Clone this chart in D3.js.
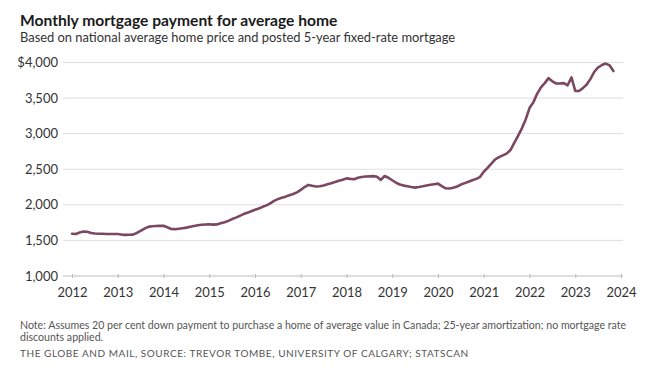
<!DOCTYPE html>
<html lang="en">
<head>
<meta charset="utf-8">
<title>Monthly mortgage payment for average home</title>
<script src="https://cdn.jsdelivr.net/npm/d3@7"></script>
<style>
body { margin: 0; background: #fff; }
svg text { font-family: Lato, "Open Sans", sans-serif; }
.title { font-size: 15.6px; font-weight: 700; fill: #1a1a1a; }
.subtitle { font-size: 12.9px; fill: #333; }
.grid line { stroke: #dedede; stroke-width: 1; }
.yaxis text { font-size: 13px; fill: #333; }
.xaxis text { font-size: 13px; fill: #333; }
.xaxis line, .xaxis path { stroke: #bbb; }
.note { font-size: 10.6px; fill: #555; }
.source { font-size: 10px; fill: #555; letter-spacing: 0.55px; }
</style>
</head>
<body>
<div id="chart"></div>
<script>
// monthly values, Jan 2012 .. Nov 2023 (dollars)
var startYear = 2012;
var v2012 = [1594,1590,1610,1625,1622,1605,1598,1594,1593,1591,1590,1590];
var v2013 = [1590,1582,1578,1580,1582,1605,1635,1665,1690,1698,1703,1706];
var v2014 = [1705,1685,1660,1658,1665,1672,1680,1692,1702,1712,1720,1724];
var v2015 = [1728,1722,1725,1740,1755,1775,1800,1820,1845,1870,1890,1910];
var v2016 = [1932,1948,1972,1992,2020,2055,2080,2100,2115,2135,2152,2175];
var v2017 = [2210,2250,2280,2268,2258,2262,2272,2290,2305,2320,2338,2352];
var v2018 = [2372,2365,2360,2380,2392,2398,2400,2403,2395,2350,2405,2380];
var v2019 = [2345,2310,2285,2270,2260,2250,2242,2250,2260,2272,2282,2290];
var v2020 = [2298,2262,2232,2230,2240,2258,2285,2305,2325,2345,2365,2390];
var v2021 = [2465,2520,2580,2640,2670,2695,2720,2770,2870,2970,3075,3200];
var v2022 = [3360,3440,3560,3650,3710,3780,3735,3705,3705,3710,3680,3790];
var v2023 = [3600,3600,3640,3690,3770,3870,3930,3965,3985,3960,3880];

var yearTicks = [2012,2013,2014,2015,2016,2017,2018,2019,2020,2021,2022,2023,2024];
var valueTicks = [1000,1500,2000,2500,3000,3500,4000];

var title = "Monthly mortgage payment for average home";
var subtitle = "Based on national average home price and posted 5-year fixed-rate mortgage";
var note1 = "Note: Assumes 20 per cent down payment to purchase a home of average value in Canada; 25-year amortization; no mortgage rate";
var note2 = "discounts applied.";
var source = "THE GLOBE AND MAIL, SOURCE: TREVOR TOMBE, UNIVERSITY OF CALGARY; STATSCAN";

var values = [].concat(v2012, v2013, v2014, v2015, v2016, v2017, v2018, v2019, v2020, v2021, v2022, v2023);
var data = values.map(function(v, i) { return { t: startYear + i / 12, v: v }; });

var width = 650, height = 370;
var svg = d3.select("#chart").append("svg")
    .attr("width", width)
    .attr("height", height);

var x = d3.scaleLinear().domain([2012, 2024]).range([72, 621]);
var y = d3.scaleLinear().domain([1000, 4000]).range([276, 62.5]);

svg.append("text").attr("class", "title").attr("x", 20).attr("y", 26).text(title);
svg.append("text").attr("class", "subtitle").attr("x", 20).attr("y", 42).text(subtitle);

// gridlines
svg.append("g").attr("class", "grid")
    .selectAll("line")
    .data(valueTicks.slice(1))
    .enter().append("line")
    .attr("x1", 63).attr("x2", 623)
    .attr("y1", function(d) { return y(d); })
    .attr("y2", function(d) { return y(d); });

// y labels
svg.append("g").attr("class", "yaxis")
    .selectAll("text")
    .data(valueTicks)
    .enter().append("text")
    .attr("x", 58)
    .attr("y", function(d) { return y(d); })
    .attr("dy", "0.35em")
    .attr("text-anchor", "end")
    .text(function(d) { return (d === 4000 ? "$" : "") + d3.format(",")(d); });

// x axis
var xAxis = d3.axisBottom(x)
    .tickValues(yearTicks)
    .tickFormat(d3.format("d"))
    .tickSize(4)
    .tickPadding(8);
var gx = svg.append("g").attr("class", "xaxis")
    .attr("transform", "translate(0," + y(1000) + ")")
    .call(xAxis);
gx.select(".domain").remove();
gx.insert("line", ":first-child")
    .attr("x1", 63).attr("x2", 623)
    .attr("y1", 0).attr("y2", 0)
    .attr("stroke", "#d6d6d6");
gx.selectAll(".tick line").attr("y1", -2).attr("y2", 2);

var line = d3.line()
    .x(function(d) { return x(d.t); })
    .y(function(d) { return y(d.v); });

svg.append("path")
    .datum(data)
    .attr("d", line)
    .attr("fill", "none")
    .attr("stroke", "#7b485f")
    .attr("stroke-width", 2.6)
    .attr("stroke-linejoin", "round")
    .attr("stroke-linecap", "round");

svg.append("text").attr("class", "note").attr("x", 20).attr("y", 329).text(note1);
svg.append("text").attr("class", "note").attr("x", 20).attr("y", 341).text(note2);
svg.append("text").attr("class", "source").attr("x", 20).attr("y", 357).text(source);
</script>
</body>
</html>
